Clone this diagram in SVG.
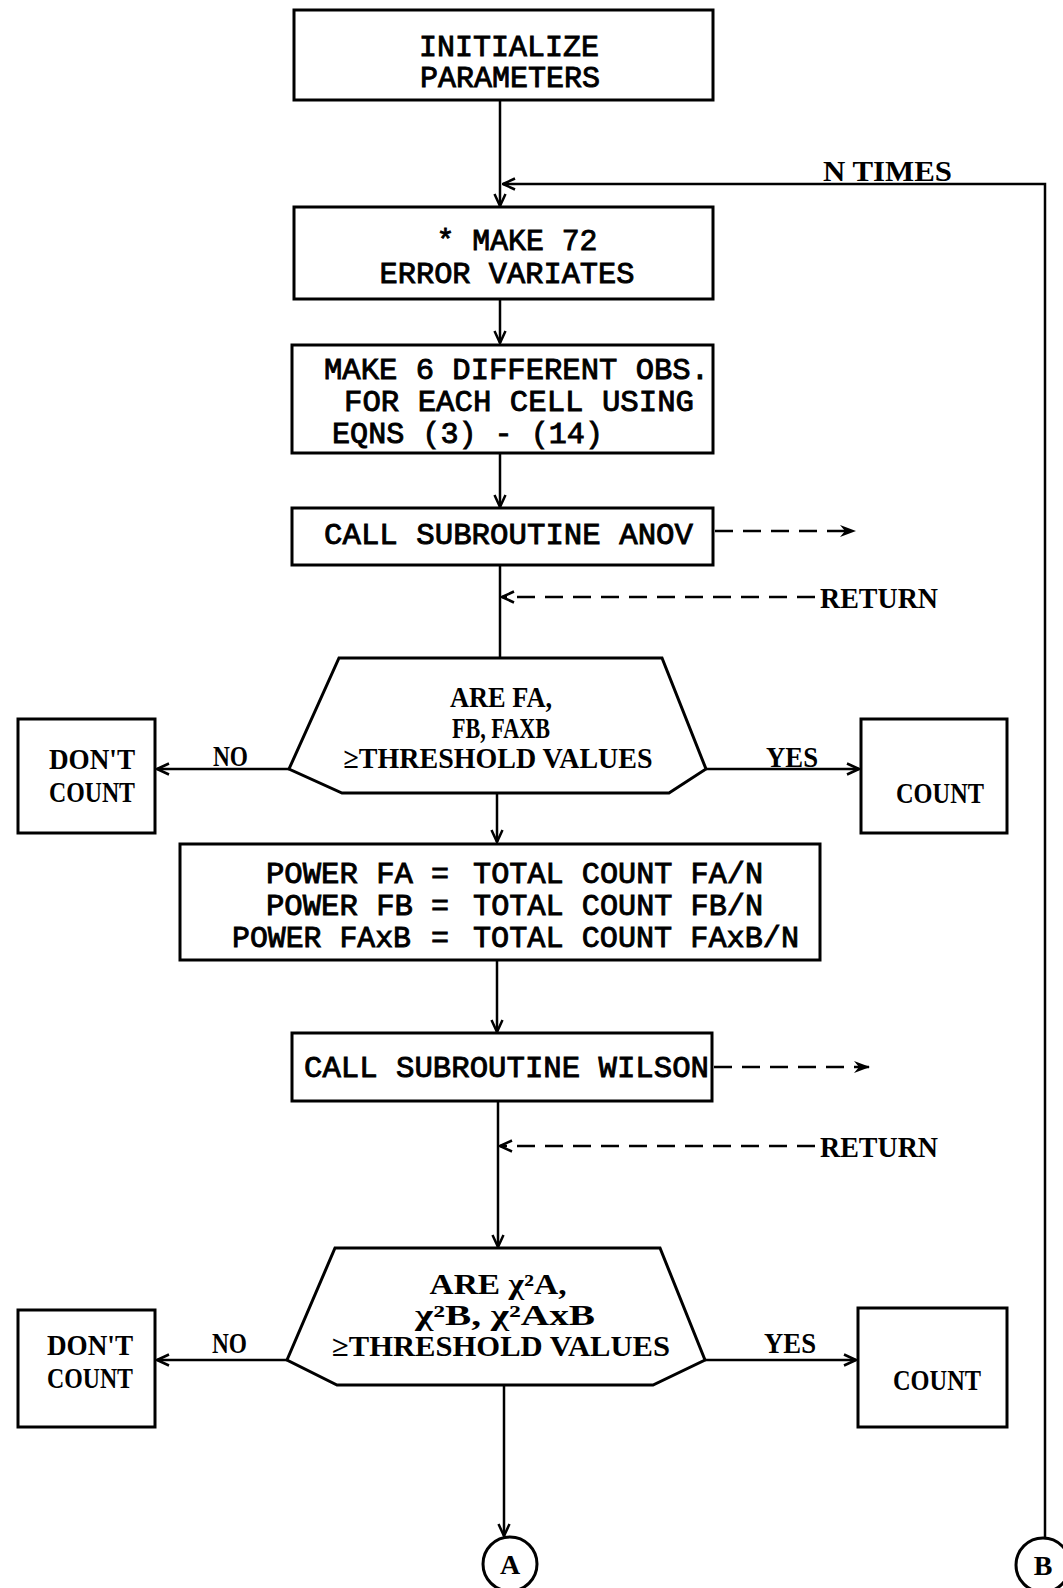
<svg xmlns="http://www.w3.org/2000/svg" width="1063" height="1588" viewBox="0 0 1063 1588">
<style>
.box{fill:none;stroke:#000;stroke-width:3}
.ln{fill:none;stroke:#000;stroke-width:2.5}
.dash{fill:none;stroke:#000;stroke-width:2.5;stroke-dasharray:18 10}
.mono{font-family:"Liberation Mono",monospace;font-weight:normal;font-size:30px;fill:#000;stroke:#000;stroke-width:0.9}
.serif{font-family:"Liberation Serif",serif;font-weight:bold;font-size:29px;fill:#000}
.mid{text-anchor:middle}
.end{text-anchor:end}
</style>
<defs>
<marker id="arr" viewBox="0 0 14 14" refX="13" refY="7" markerWidth="14" markerHeight="14" markerUnits="userSpaceOnUse" orient="auto">
<path d="M1,1.5 L13,7 L1,12.5" fill="none" stroke="#000" stroke-width="2.5"/>
</marker>
<marker id="darr" viewBox="0 0 16 12" refX="15" refY="6" markerWidth="16" markerHeight="12" markerUnits="userSpaceOnUse" orient="auto">
<path d="M0,0 L16,6 L0,12 L5,6 Z" fill="#000"/>
</marker>
</defs>

<g id="connectors">
<line class="ln" x1="500" y1="100" x2="500" y2="206" marker-end="url(#arr)"/>
<polyline class="ln" points="1045,1537 1045,184 503,184" marker-end="url(#arr)"/>
<line class="ln" x1="500" y1="300" x2="500" y2="343" marker-end="url(#arr)"/>
<line class="ln" x1="500" y1="454" x2="500" y2="507" marker-end="url(#arr)"/>
<line class="ln" x1="500" y1="565" x2="500" y2="658"/>
<line class="dash" x1="715" y1="531" x2="855" y2="531" marker-end="url(#darr)"/>
<line class="dash" x1="815" y1="597" x2="502" y2="597" marker-end="url(#arr)"/>
<line class="ln" x1="289" y1="769" x2="157" y2="769" marker-end="url(#arr)"/>
<line class="ln" x1="706" y1="769" x2="859" y2="769" marker-end="url(#arr)"/>
<line class="ln" x1="497" y1="793" x2="497" y2="842" marker-end="url(#arr)"/>
<line class="ln" x1="497" y1="960" x2="497" y2="1032" marker-end="url(#arr)"/>
<line class="dash" x1="714" y1="1067" x2="869" y2="1067" marker-end="url(#darr)"/>
<line class="ln" x1="498" y1="1101" x2="498" y2="1247" marker-end="url(#arr)"/>
<line class="dash" x1="815" y1="1146" x2="500" y2="1146" marker-end="url(#arr)"/>
<line class="ln" x1="287" y1="1360" x2="157" y2="1360" marker-end="url(#arr)"/>
<line class="ln" x1="705" y1="1360" x2="856" y2="1360" marker-end="url(#arr)"/>
<line class="ln" x1="504" y1="1385" x2="504" y2="1536" marker-end="url(#arr)"/>
<text class="serif" x="823" y="181" textLength="129" lengthAdjust="spacingAndGlyphs">N TIMES</text>
<text class="serif" x="820" y="608" textLength="118" lengthAdjust="spacingAndGlyphs">RETURN</text>
<text class="serif" x="820" y="1157" textLength="118" lengthAdjust="spacingAndGlyphs">RETURN</text>
<text class="serif" x="213" y="766" textLength="35" lengthAdjust="spacingAndGlyphs">NO</text>
<text class="serif" x="766" y="767" textLength="52" lengthAdjust="spacingAndGlyphs">YES</text>
<text class="serif" x="212" y="1353" textLength="35" lengthAdjust="spacingAndGlyphs">NO</text>
<text class="serif" x="764" y="1353" textLength="52" lengthAdjust="spacingAndGlyphs">YES</text>
</g>

<g id="init">
<rect class="box" x="294" y="10" width="419" height="90"/>
<text class="mono mid" x="509" y="56" textLength="180" lengthAdjust="spacingAndGlyphs">INITIALIZE</text>
<text class="mono mid" x="510" y="87" textLength="180" lengthAdjust="spacingAndGlyphs">PARAMETERS</text>
</g>

<g id="make72">
<rect class="box" x="294" y="207" width="419" height="92"/>
<text class="mono mid" x="517" y="250" textLength="161" lengthAdjust="spacingAndGlyphs">* MAKE 72</text>
<text class="mono mid" x="507" y="283" textLength="255" lengthAdjust="spacingAndGlyphs">ERROR VARIATES</text>
</g>

<g id="makeobs">
<rect class="box" x="292" y="345" width="421" height="108"/>
<text class="mono" x="324" y="379" textLength="385" lengthAdjust="spacingAndGlyphs">MAKE 6 DIFFERENT OBS.</text>
<text class="mono" x="344" y="411" textLength="350" lengthAdjust="spacingAndGlyphs">FOR EACH CELL USING</text>
<text class="mono" x="332" y="443" textLength="271" lengthAdjust="spacingAndGlyphs">EQNS (3) - (14)</text>
</g>

<g id="anov">
<rect class="box" x="292" y="508" width="421" height="57"/>
<text class="mono" x="324" y="544" textLength="369" lengthAdjust="spacingAndGlyphs">CALL SUBROUTINE ANOV</text>
</g>

<g id="decision1">
<polygon class="box" points="339,658 662,658 706,769 669,793 342,793 289,769"/>
<text class="serif mid" x="501" y="707" textLength="102" lengthAdjust="spacingAndGlyphs">ARE FA,</text>
<text class="serif mid" x="501" y="738" textLength="98" lengthAdjust="spacingAndGlyphs">FB, FAXB</text>
<text class="serif mid" x="498" y="768" textLength="309" lengthAdjust="spacingAndGlyphs">≥THRESHOLD VALUES</text>
</g>

<g id="dontcount1">
<rect class="box" x="18" y="719" width="137" height="114"/>
<text class="serif mid" x="92" y="769" textLength="86" lengthAdjust="spacingAndGlyphs">DON'T</text>
<text class="serif mid" x="92" y="802" textLength="86" lengthAdjust="spacingAndGlyphs">COUNT</text>
</g>

<g id="count1">
<rect class="box" x="861" y="719" width="146" height="114"/>
<text class="serif mid" x="940" y="803" textLength="88" lengthAdjust="spacingAndGlyphs">COUNT</text>
</g>

<g id="power">
<rect class="box" x="180" y="844" width="640" height="116"/>
<text class="mono end" x="413" y="883" textLength="147" lengthAdjust="spacingAndGlyphs">POWER FA</text>
<text class="mono mid" x="440" y="883">=</text>
<text class="mono" x="473" y="883" textLength="290" lengthAdjust="spacingAndGlyphs">TOTAL COUNT FA/N</text>
<text class="mono end" x="413" y="915" textLength="147" lengthAdjust="spacingAndGlyphs">POWER FB</text>
<text class="mono mid" x="440" y="915">=</text>
<text class="mono" x="473" y="915" textLength="290" lengthAdjust="spacingAndGlyphs">TOTAL COUNT FB/N</text>
<text class="mono end" x="411" y="947" textLength="179" lengthAdjust="spacingAndGlyphs">POWER FAxB</text>
<text class="mono mid" x="440" y="947">=</text>
<text class="mono" x="473" y="947" textLength="326" lengthAdjust="spacingAndGlyphs">TOTAL COUNT FAxB/N</text>
</g>

<g id="wilson">
<rect class="box" x="292" y="1033" width="420" height="68"/>
<text class="mono" x="304" y="1077" textLength="405" lengthAdjust="spacingAndGlyphs">CALL SUBROUTINE WILSON</text>
</g>

<g id="decision2">
<polygon class="box" points="335,1248 660,1248 705,1360 653,1385 337,1385 287,1360"/>
<text class="serif mid" x="498" y="1294" textLength="137" lengthAdjust="spacingAndGlyphs">ARE χ²A,</text>
<text class="serif mid" x="505" y="1325" textLength="180" lengthAdjust="spacingAndGlyphs">χ²B, χ²AxB</text>
<text class="serif mid" x="501" y="1356" textLength="338" lengthAdjust="spacingAndGlyphs">≥THRESHOLD VALUES</text>
</g>

<g id="dontcount2">
<rect class="box" x="18" y="1310" width="137" height="117"/>
<text class="serif mid" x="90" y="1355" textLength="86" lengthAdjust="spacingAndGlyphs">DON'T</text>
<text class="serif mid" x="90" y="1388" textLength="86" lengthAdjust="spacingAndGlyphs">COUNT</text>
</g>

<g id="count2">
<rect class="box" x="858" y="1308" width="149" height="119"/>
<text class="serif mid" x="937" y="1390" textLength="88" lengthAdjust="spacingAndGlyphs">COUNT</text>
</g>

<g id="connA">
<circle class="box" cx="510" cy="1564" r="27"/>
<text class="serif mid" x="510" y="1574" style="font-size:28px">A</text>
</g>

<g id="connB">
<circle class="box" cx="1043" cy="1565" r="27"/>
<text class="serif mid" x="1043" y="1575" style="font-size:28px">B</text>
</g>
</svg>
